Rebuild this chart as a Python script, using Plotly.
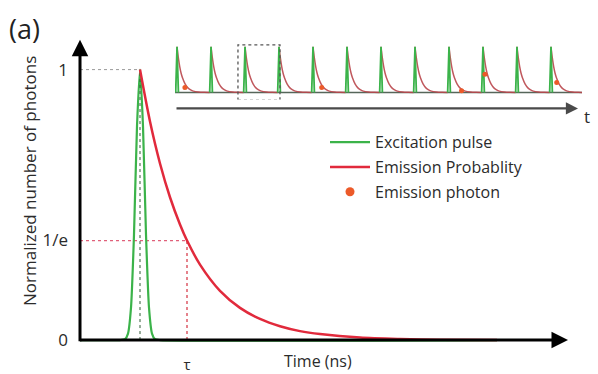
import plotly.graph_objects as go

# ---------------- data ----------------
# main panel: time in ns, normalized photon number
pulse_t = [0.0, 2.0, 2.25, 2.4, 2.55, 2.7, 2.85, 3.0, 3.15, 3.3, 3.45, 3.6, 3.75, 4.0, 20.85]
pulse_y = [0.0, 0.0, 0.003, 0.024, 0.12, 0.39, 0.79, 1.0, 0.79, 0.39, 0.12, 0.024, 0.003, 0.0, 0.0]

emis_t = [3.0, 3.5, 4.0, 4.5, 5.0, 5.35, 6.0, 7.0, 8.0, 9.0, 10.0, 11.0, 12.0, 14.0, 16.0, 18.0, 20.85]
emis_y = [1.0, 0.808, 0.653, 0.528, 0.427, 0.368, 0.279, 0.182, 0.119, 0.078, 0.051, 0.033, 0.022, 0.009, 0.004, 0.0015, 0.0]

peak_t = 3.0
tau_t = 5.35
one_over_e = 0.368

y_tickvals = [0, one_over_e, 1]
y_ticktext = ["0", "1/e", "1"]

# inset: pulse train (ns), repetition period 12.5 ns
inset_peaks = [0.0, 12.5, 25.0, 37.5, 50.0, 62.5, 75.0, 87.5, 100.0, 112.5, 125.0, 137.5]
spike_rel_t = [-0.5, 0.0, 0.5]
spike_rel_y = [0.0, 1.0, 0.0]
decay_rel_t = [0.0, 0.5, 1.0, 1.5, 2.0, 3.0, 4.0, 5.0, 6.0, 8.0, 10.0, 12.0]
decay_rel_y = [1.0, 0.75, 0.56, 0.42, 0.32, 0.18, 0.10, 0.057, 0.03, 0.01, 0.003, 0.0]
inset_base_t = [-0.75, 148.9]
photon_t = [2.9, 53.2, 104.6, 113.2, 139.6]
photon_y = [0.11, 0.11, 0.04, 0.40, 0.22]
box_t = [22.4, 37.85]
box_y = [-0.17, 1.04]

GREEN = "#3bb34a"
RED = "#e12a3c"
ORANGE = "#ec5a29"
TXT = "#2b2b2b"
FONT = "Open Sans"

# build inset series from the read pulse shape
spk_x, spk_y, dec_x, dec_y = [], [], [], []
for p in inset_peaks:
    spk_x += [p + r for r in spike_rel_t] + [None]
    spk_y += spike_rel_y + [None]
    dec_x += [p + r for r in decay_rel_t] + [None]
    dec_y += decay_rel_y + [None]

fig = go.Figure()

# reference dotted lines
fig.add_trace(go.Scatter(x=[0, peak_t], y=[1, 1], mode="lines",
                         line=dict(color="#9a9a9a", width=1, dash="dot"), showlegend=False))
fig.add_trace(go.Scatter(x=[0, tau_t], y=[one_over_e, one_over_e], mode="lines",
                         line=dict(color="#e0607a", width=1.3, dash="dot"), showlegend=False))
fig.add_trace(go.Scatter(x=[tau_t, tau_t], y=[0, one_over_e], mode="lines",
                         line=dict(color="#d8404f", width=1.3, dash="dot"), showlegend=False))

# main curves
fig.add_trace(go.Scatter(x=pulse_t, y=pulse_y, mode="lines", name="Excitation pulse",
                         line=dict(color=GREEN, width=2.2, shape="spline", smoothing=0.6),
                         legendgroup="a"))
fig.add_trace(go.Scatter(x=[peak_t, peak_t], y=[0, 1], mode="lines",
                         line=dict(color="#2f5a35", width=1, dash="dot"), showlegend=False))
fig.add_trace(go.Scatter(x=emis_t, y=emis_y, mode="lines", name="Emission Probablity",
                         line=dict(color=RED, width=2.5, shape="spline", smoothing=0.8),
                         legendgroup="b"))

# inset
fig.add_trace(go.Scatter(x=inset_base_t, y=[0, 0], mode="lines", xaxis="x2", yaxis="y2",
                         line=dict(color="#56665a", width=1.6), showlegend=False))
fig.add_trace(go.Scatter(x=dec_x, y=dec_y, mode="lines", xaxis="x2", yaxis="y2",
                         line=dict(color="rgba(185,70,75,0.9)", width=1.5, shape="spline"),
                         showlegend=False, connectgaps=False))
fig.add_trace(go.Scatter(x=spk_x, y=spk_y, mode="lines", xaxis="x2", yaxis="y2",
                         line=dict(color=GREEN, width=1.8), showlegend=False, connectgaps=False))
fig.add_trace(go.Scatter(x=photon_t, y=photon_y, mode="markers", xaxis="x2", yaxis="y2",
                         marker=dict(color=ORANGE, size=5), showlegend=False))
# legend entry for photon
fig.add_trace(go.Scatter(x=[None], y=[None], mode="markers", name="Emission photon",
                         marker=dict(color=ORANGE, size=9), legendgroup="c"))

# dotted selection box in inset
fig.add_shape(type="rect", xref="x2", yref="y2", x0=box_t[0], x1=box_t[1], y0=box_y[0], y1=box_y[1],
              line=dict(color="#555555", width=1.3, dash="dot"))

W, H = 598, 374
ML, MB = 70, 22
PW, PH = W - ML, H - MB
px_per_ns = 20.0
px_per_unit = 272.0


def px_x(p):
    return (p - ML) / PW


def px_y(p):
    return 1 - p / PH


fig.update_layout(
    width=W, height=H,
    margin=dict(l=ML, r=0, t=0, b=MB),
    paper_bgcolor="white", plot_bgcolor="white",
    font=dict(family=FONT, color=TXT, size=15),
    xaxis=dict(domain=[0, 1], range=[-10 / px_per_ns, (W - 80) / px_per_ns],
               showgrid=False, zeroline=False, showline=False,
               tickvals=[tau_t], ticktext=["τ"], ticks="", tickfont=dict(size=15, color=TXT),
               ticklabelstandoff=4),
    yaxis=dict(domain=[0, 1], range=[-10 / px_per_unit, 342 / px_per_unit],
               showgrid=False, zeroline=False, showline=False,
               tickvals=y_tickvals, ticktext=y_ticktext, ticks="", tickfont=dict(size=17, color=TXT),
               ticklabelstandoff=1),
    xaxis2=dict(domain=[px_x(175), px_x(582)], anchor="y2",
                range=[-0.75, 148.9], visible=False),
    yaxis2=dict(domain=[px_y(100), px_y(40)], anchor="x2",
                range=[-7 / 46, 53 / 46], visible=False),
    legend=dict(x=px_x(325), y=px_y(126), xanchor="left", yanchor="top",
                font=dict(size=16, color=TXT), bgcolor="rgba(0,0,0,0)",
                traceorder="grouped", tracegroupgap=1, itemwidth=40),
)

# axes arrows
fig.add_annotation(x=0, y=(342 - 40) / px_per_unit, ax=0, ay=-0.01, xref="x", yref="y",
                   axref="x", ayref="y", text="", showarrow=True, arrowhead=2, arrowsize=1.1,
                   arrowwidth=3, arrowcolor="black")
fig.add_annotation(x=(568 - 80) / px_per_ns, y=0, ax=-0.08, ay=0, xref="x", yref="y",
                   axref="x", ayref="y", text="", showarrow=True, arrowhead=2, arrowsize=1.1,
                   arrowwidth=3, arrowcolor="black")
# inset time arrow
fig.add_annotation(x=px_x(578), y=px_y(109), ax=-(578 - 175), ay=0,
                   xref="paper", yref="paper", axref="pixel", ayref="pixel",
                   text="", showarrow=True, arrowhead=2, arrowsize=1.1, arrowwidth=2.2,
                   arrowcolor="#4a4a4a")
fig.add_annotation(x=px_x(587), y=px_y(117), xref="paper", yref="paper",
                   xanchor="center", yanchor="middle",
                   text="t", showarrow=False, font=dict(size=17, color=TXT))

# texts
fig.add_annotation(x=(318 - 80) / px_per_ns, y=px_y(363), xref="x", yref="paper",
                   xanchor="center", yanchor="middle",
                   text="Time (ns)", showarrow=False, font=dict(size=16, color=TXT))
fig.add_annotation(x=px_x(30), y=px_y(182), xref="paper", yref="paper", xanchor="center",
                   yanchor="middle", text="Normalized number of photons", textangle=-90,
                   showarrow=False, font=dict(size=17, color=TXT))
fig.add_annotation(x=px_x(7), y=px_y(29), xref="paper", yref="paper", xanchor="left",
                   yanchor="middle", text="(a)", showarrow=False, font=dict(size=27, color="#222"))

fig.write_html("out.html")
